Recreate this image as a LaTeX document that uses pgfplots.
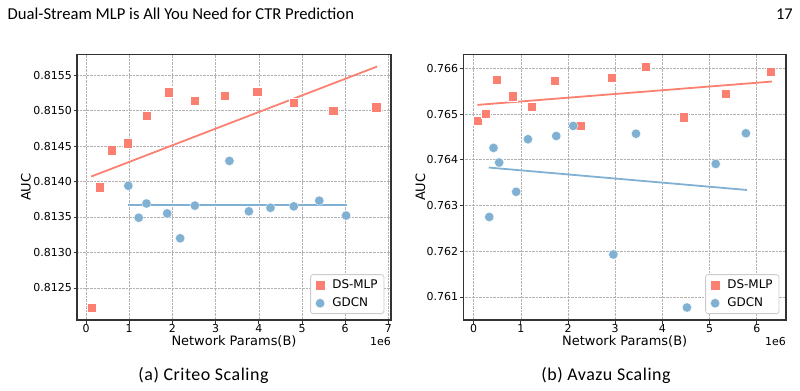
\documentclass[border=0pt]{standalone}
\usepackage{pgfplots}
\pgfplotsset{compat=1.18}
\usepackage{fontspec}
\setmainfont{Carlito}
\newfontfamily\plotfont{DejaVu Sans}
\newfontfamily\capfont[LetterSpace=3]{Carlito}
\definecolor{dsmlp}{HTML}{FB8072}
\definecolor{gdcn}{HTML}{80B1D3}

\pgfplotsset{
  scalingplot/.style={
    scale only axis,
    height=265.7bp,
    axis line style={black!80, line width=1.1bp},
    tick align=outside,
    xtick pos=left, ytick pos=left,
    major tick length=3.5bp,
    tick style={black!80, line width=0.8bp},
    grid=major,
    major grid style={densely dotted, black!30, line width=0.6bp},
    scaled x ticks=false, scaled y ticks=false,
    ticklabel style={font=\plotfont\fontsize{11}{13}\selectfont},
    /pgf/number format/assume math mode=true,
    x tick label style={inner ysep=0.5bp},
    y tick label style={inner xsep=1.5bp},
    legend cell align=left,
    legend image code/.code={\draw[mark repeat=2,mark phase=2,##1] plot coordinates {(0bp,0bp)(10bp,0bp)(20bp,0bp)};},
    legend style={at={(1,0)}, anchor=south east, xshift=-6.7bp, yshift=6bp,
      draw=black!20, line width=0.8bp, rounded corners=2.5bp, fill=white,
      inner xsep=4.8bp, inner ysep=3.2bp, column sep=6bp, row sep=4bp,
      font=\plotfont\fontsize{12}{14}\selectfont,
      nodes={inner sep=1.5bp, text height=8.8bp, text depth=2.5bp}},
  },
  dsmarks/.style={only marks, mark=square*, mark size=4.7bp,
    mark options={fill=dsmlp, draw=white, line width=0.3bp, sharp corners}},
  gdmarks/.style={only marks, mark=*, mark size=4.7bp,
    mark options={fill=gdcn, draw=white, line width=0.3bp}},
  fitline/.style={line width=1.8bp, forget plot, no marks},
}

\begin{document}
\begin{tikzpicture}[x=1bp, y=1bp]
\path[use as bounding box] (0,0) rectangle (800,390);

% running head
\node[anchor=base west, inner sep=0, font=\fontsize{16.7}{18}\selectfont] at (7.5,370.7)
  {Dual-Stream MLP is All You Need for CTR Prediction};
\node[anchor=base east, inner sep=0, font=\fontsize{16.5}{18}\selectfont] at (793,371) {17};

% (a) Criteo
\begin{axis}[scalingplot, at={(77bp,70bp)}, anchor=south west, width=314bp,
  xmin=-0.208, xmax=7.06, ymin=0.812049, ymax=0.815792,
  xtick={0,1,2,3,4,5,6,7},
  ytick={0.8125,0.813,0.8135,0.814,0.8145,0.815,0.8155},
  yticklabel style={/pgf/number format/fixed, /pgf/number format/fixed zerofill, /pgf/number format/precision=4}]
\addplot[fitline, dsmlp] coordinates {(0.12,0.81407) (6.74,0.81562)};
\addplot[fitline, gdcn] coordinates {(0.98,0.81367) (6.03,0.81367)};
\addplot[dsmarks] coordinates {
  (0.13,0.81222) (0.31,0.81392) (0.60,0.81444) (0.97,0.81454)
  (1.40,0.81493) (1.92,0.81526) (2.52,0.81514) (3.21,0.81521)
  (3.96,0.81527) (4.80,0.81511) (5.72,0.81500) (6.72,0.81505)};
\addlegendentry{DS-MLP}
\addplot[gdmarks] coordinates {
  (0.98,0.81394) (1.22,0.81349) (1.40,0.81369) (1.88,0.81355)
  (2.18,0.81320) (2.52,0.81366) (3.32,0.81429) (3.77,0.81358)
  (4.27,0.81363) (4.81,0.81365) (5.40,0.81373) (6.02,0.81352)};
\addlegendentry{GDCN}
\end{axis}
\node[anchor=base, inner sep=0, font=\plotfont\fontsize{13}{15}\selectfont] at (234,44.3) {Network Params(B)};
\node[anchor=base east, inner sep=0, font=\plotfont\fontsize{11}{13}\selectfont] at (391,45) {1e6};
\node[anchor=base, rotate=90, inner sep=0, font=\plotfont\fontsize{13}{15}\selectfont] at (30.7,202.8) {AUC};

% (b) Avazu
\begin{axis}[scalingplot, at={(463.3bp,70bp)}, anchor=south west, width=322.7bp,
  xmin=-0.22, xmax=6.62, ymin=0.760497, ymax=0.766306,
  xtick={0,1,2,3,4,5,6},
  ytick={0.761,0.762,0.763,0.764,0.765,0.766},
  yticklabel style={/pgf/number format/fixed, /pgf/number format/fixed zerofill, /pgf/number format/precision=3}]
\addplot[fitline, dsmlp] coordinates {(0.08,0.76520) (6.32,0.76571)};
\addplot[fitline, gdcn] coordinates {(0.32,0.76383) (5.79,0.76334)};
\addplot[dsmarks] coordinates {
  (0.08,0.76485) (0.25,0.76501) (0.49,0.76575) (0.83,0.76539)
  (1.23,0.76516) (1.71,0.76573) (2.27,0.76474) (2.92,0.76580)
  (3.65,0.76603) (4.45,0.76493) (5.34,0.76544) (6.30,0.76593)};
\addlegendentry{DS-MLP}
\addplot[gdmarks] coordinates {
  (0.33,0.76275) (0.42,0.76426) (0.54,0.76394) (0.90,0.76330)
  (1.15,0.76445) (1.75,0.76452) (2.11,0.76474) (2.96,0.76193)
  (3.44,0.76457) (4.52,0.76077) (5.13,0.76391) (5.77,0.76458)};
\addlegendentry{GDCN}
\end{axis}
\node[anchor=base, inner sep=0, font=\plotfont\fontsize{13}{15}\selectfont] at (624.7,44.3) {Network Params(B)};
\node[anchor=base east, inner sep=0, font=\plotfont\fontsize{11}{13}\selectfont] at (786,45) {1e6};
\node[anchor=base, rotate=90, inner sep=0, font=\plotfont\fontsize{13}{15}\selectfont] at (425,202.8) {AUC};

% subfigure captions
\node[anchor=base, inner sep=0, font=\capfont\fontsize{18}{20}\selectfont] at (203.5,9.3) {(a) Criteo Scaling};
\node[anchor=base, inner sep=0, font=\capfont\fontsize{18}{20}\selectfont] at (606,9.3) {(b) Avazu Scaling};
\end{tikzpicture}
\end{document}
